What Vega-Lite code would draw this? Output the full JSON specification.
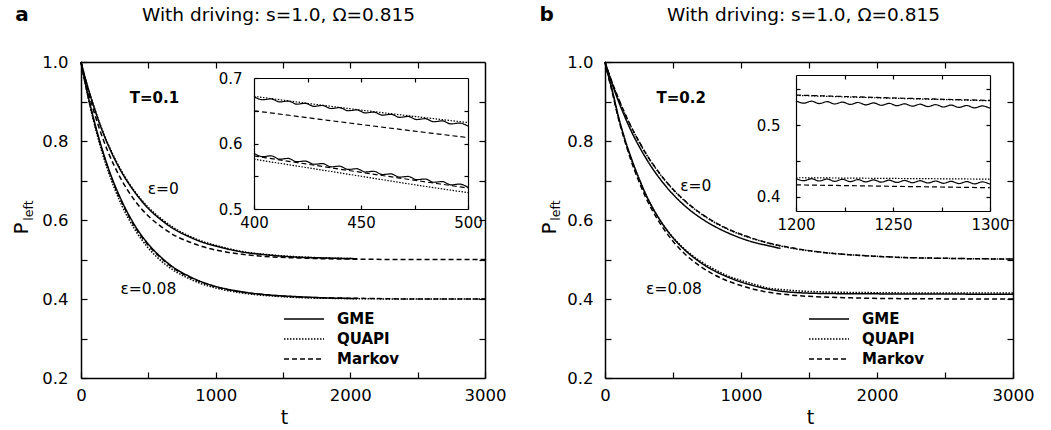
{
"$schema":"https://vega.github.io/schema/vega-lite/v6.json",
"width":1051,"height":430,"autosize":"none","padding":0,"background":"white",
"config":{"font":"DejaVu Sans","view":{"stroke":null},
"axis":{"domainColor":"black","domainWidth":1.5,"tickColor":"black","tickWidth":1.2,"labelColor":"black","titleColor":"black","grid":false,"labelFlush":false,"labelOverlap":false,"titleFontWeight":"normal","labelFont":"DejaVu Sans","titleFont":"DejaVu Sans"},
"legend":{"labelFont":"DejaVu Sans"}},
"datasets":{
"mainA":[
{"t":0,"P":1,"m":"GME","e":"0"},{"t":25,"P":0.967,"m":"GME","e":"0"},{"t":50,"P":0.937,"m":"GME","e":"0"},{"t":100,"P":0.882,"m":"GME","e":"0"},{"t":150,"P":0.833,"m":"GME","e":"0"},{"t":200,"P":0.791,"m":"GME","e":"0"},{"t":250,"P":0.754,"m":"GME","e":"0"},{"t":300,"P":0.722,"m":"GME","e":"0"},{"t":400,"P":0.670,"m":"GME","e":"0"},{"t":500,"P":0.629,"m":"GME","e":"0"},{"t":600,"P":0.599,"m":"GME","e":"0"},{"t":700,"P":0.575,"m":"GME","e":"0"},{"t":800,"P":0.558,"m":"GME","e":"0"},{"t":900,"P":0.544,"m":"GME","e":"0"},{"t":1000,"P":0.534,"m":"GME","e":"0"},{"t":1200,"P":0.519,"m":"GME","e":"0"},{"t":1400,"P":0.511,"m":"GME","e":"0"},{"t":1600,"P":0.506,"m":"GME","e":"0"},{"t":1800,"P":0.504,"m":"GME","e":"0"},{"t":2050,"P":0.502,"m":"GME","e":"0"},
{"t":0,"P":1,"m":"QUAPI","e":"0"},{"t":25,"P":0.967,"m":"QUAPI","e":"0"},{"t":50,"P":0.937,"m":"QUAPI","e":"0"},{"t":100,"P":0.883,"m":"QUAPI","e":"0"},{"t":150,"P":0.835,"m":"QUAPI","e":"0"},{"t":200,"P":0.793,"m":"QUAPI","e":"0"},{"t":250,"P":0.757,"m":"QUAPI","e":"0"},{"t":300,"P":0.725,"m":"QUAPI","e":"0"},{"t":400,"P":0.672,"m":"QUAPI","e":"0"},{"t":500,"P":0.632,"m":"QUAPI","e":"0"},{"t":600,"P":0.602,"m":"QUAPI","e":"0"},{"t":700,"P":0.578,"m":"QUAPI","e":"0"},{"t":800,"P":0.560,"m":"QUAPI","e":"0"},{"t":900,"P":0.546,"m":"QUAPI","e":"0"},{"t":1000,"P":0.536,"m":"QUAPI","e":"0"},{"t":1200,"P":0.520,"m":"QUAPI","e":"0"},{"t":1400,"P":0.512,"m":"QUAPI","e":"0"},{"t":1600,"P":0.507,"m":"QUAPI","e":"0"},{"t":1800,"P":0.504,"m":"QUAPI","e":"0"},{"t":2050,"P":0.502,"m":"QUAPI","e":"0"},
{"t":0,"P":1,"m":"Markov","e":"0"},{"t":25,"P":0.964,"m":"Markov","e":"0"},{"t":50,"P":0.930,"m":"Markov","e":"0"},{"t":100,"P":0.870,"m":"Markov","e":"0"},{"t":150,"P":0.818,"m":"Markov","e":"0"},{"t":200,"P":0.773,"m":"Markov","e":"0"},{"t":250,"P":0.735,"m":"Markov","e":"0"},{"t":300,"P":0.702,"m":"Markov","e":"0"},{"t":400,"P":0.649,"m":"Markov","e":"0"},{"t":500,"P":0.610,"m":"Markov","e":"0"},{"t":600,"P":0.582,"m":"Markov","e":"0"},{"t":700,"P":0.560,"m":"Markov","e":"0"},{"t":800,"P":0.545,"m":"Markov","e":"0"},{"t":900,"P":0.533,"m":"Markov","e":"0"},{"t":1000,"P":0.524,"m":"Markov","e":"0"},{"t":1200,"P":0.513,"m":"Markov","e":"0"},{"t":1400,"P":0.507,"m":"Markov","e":"0"},{"t":1600,"P":0.504,"m":"Markov","e":"0"},{"t":1800,"P":0.502,"m":"Markov","e":"0"},{"t":2000,"P":0.501,"m":"Markov","e":"0"},{"t":2500,"P":0.500,"m":"Markov","e":"0"},{"t":3000,"P":0.500,"m":"Markov","e":"0"},
{"t":0,"P":1,"m":"GME","e":"0.08"},{"t":25,"P":0.958,"m":"GME","e":"0.08"},{"t":50,"P":0.918,"m":"GME","e":"0.08"},{"t":100,"P":0.848,"m":"GME","e":"0.08"},{"t":150,"P":0.787,"m":"GME","e":"0.08"},{"t":200,"P":0.734,"m":"GME","e":"0.08"},{"t":250,"P":0.689,"m":"GME","e":"0.08"},{"t":300,"P":0.650,"m":"GME","e":"0.08"},{"t":400,"P":0.586,"m":"GME","e":"0.08"},{"t":500,"P":0.539,"m":"GME","e":"0.08"},{"t":600,"P":0.504,"m":"GME","e":"0.08"},{"t":700,"P":0.477,"m":"GME","e":"0.08"},{"t":800,"P":0.458,"m":"GME","e":"0.08"},{"t":900,"P":0.443,"m":"GME","e":"0.08"},{"t":1000,"P":0.432,"m":"GME","e":"0.08"},{"t":1200,"P":0.418,"m":"GME","e":"0.08"},{"t":1400,"P":0.410,"m":"GME","e":"0.08"},{"t":1600,"P":0.406,"m":"GME","e":"0.08"},{"t":1800,"P":0.403,"m":"GME","e":"0.08"},{"t":2050,"P":0.401,"m":"GME","e":"0.08"},
{"t":0,"P":1,"m":"QUAPI","e":"0.08"},{"t":25,"P":0.956,"m":"QUAPI","e":"0.08"},{"t":50,"P":0.915,"m":"QUAPI","e":"0.08"},{"t":100,"P":0.842,"m":"QUAPI","e":"0.08"},{"t":150,"P":0.779,"m":"QUAPI","e":"0.08"},{"t":200,"P":0.725,"m":"QUAPI","e":"0.08"},{"t":250,"P":0.679,"m":"QUAPI","e":"0.08"},{"t":300,"P":0.639,"m":"QUAPI","e":"0.08"},{"t":400,"P":0.576,"m":"QUAPI","e":"0.08"},{"t":500,"P":0.529,"m":"QUAPI","e":"0.08"},{"t":600,"P":0.495,"m":"QUAPI","e":"0.08"},{"t":700,"P":0.470,"m":"QUAPI","e":"0.08"},{"t":800,"P":0.452,"m":"QUAPI","e":"0.08"},{"t":900,"P":0.438,"m":"QUAPI","e":"0.08"},{"t":1000,"P":0.428,"m":"QUAPI","e":"0.08"},{"t":1200,"P":0.415,"m":"QUAPI","e":"0.08"},{"t":1400,"P":0.408,"m":"QUAPI","e":"0.08"},{"t":1600,"P":0.404,"m":"QUAPI","e":"0.08"},{"t":1800,"P":0.402,"m":"QUAPI","e":"0.08"},{"t":2000,"P":0.401,"m":"QUAPI","e":"0.08"},{"t":2500,"P":0.400,"m":"QUAPI","e":"0.08"},{"t":3000,"P":0.400,"m":"QUAPI","e":"0.08"},
{"t":0,"P":1,"m":"Markov","e":"0.08"},{"t":25,"P":0.957,"m":"Markov","e":"0.08"},{"t":50,"P":0.917,"m":"Markov","e":"0.08"},{"t":100,"P":0.845,"m":"Markov","e":"0.08"},{"t":150,"P":0.785,"m":"Markov","e":"0.08"},{"t":200,"P":0.732,"m":"Markov","e":"0.08"},{"t":250,"P":0.686,"m":"Markov","e":"0.08"},{"t":300,"P":0.647,"m":"Markov","e":"0.08"},{"t":400,"P":0.583,"m":"Markov","e":"0.08"},{"t":500,"P":0.536,"m":"Markov","e":"0.08"},{"t":600,"P":0.502,"m":"Markov","e":"0.08"},{"t":700,"P":0.475,"m":"Markov","e":"0.08"},{"t":800,"P":0.456,"m":"Markov","e":"0.08"},{"t":900,"P":0.442,"m":"Markov","e":"0.08"},{"t":1000,"P":0.431,"m":"Markov","e":"0.08"},{"t":1200,"P":0.417,"m":"Markov","e":"0.08"},{"t":1400,"P":0.410,"m":"Markov","e":"0.08"},{"t":1600,"P":0.405,"m":"Markov","e":"0.08"},{"t":1800,"P":0.403,"m":"Markov","e":"0.08"},{"t":2000,"P":0.402,"m":"Markov","e":"0.08"},{"t":2500,"P":0.400,"m":"Markov","e":"0.08"},{"t":3000,"P":0.400,"m":"Markov","e":"0.08"}
],
"insetA":[
{"t":400,"P":0.6715,"m":"GME","e":"0"},{"t":404,"P":0.6668,"m":"GME","e":"0"},{"t":408,"P":0.6681,"m":"GME","e":"0"},{"t":412,"P":0.6635,"m":"GME","e":"0"},{"t":416,"P":0.6648,"m":"GME","e":"0"},{"t":420,"P":0.6601,"m":"GME","e":"0"},{"t":424,"P":0.6614,"m":"GME","e":"0"},{"t":428,"P":0.6567,"m":"GME","e":"0"},{"t":432,"P":0.6581,"m":"GME","e":"0"},{"t":436,"P":0.6534,"m":"GME","e":"0"},{"t":440,"P":0.6547,"m":"GME","e":"0"},{"t":444,"P":0.6500,"m":"GME","e":"0"},{"t":448,"P":0.6513,"m":"GME","e":"0"},{"t":452,"P":0.6467,"m":"GME","e":"0"},{"t":456,"P":0.6480,"m":"GME","e":"0"},{"t":460,"P":0.6433,"m":"GME","e":"0"},{"t":464,"P":0.6446,"m":"GME","e":"0"},{"t":468,"P":0.6399,"m":"GME","e":"0"},{"t":472,"P":0.6413,"m":"GME","e":"0"},{"t":476,"P":0.6366,"m":"GME","e":"0"},{"t":480,"P":0.6379,"m":"GME","e":"0"},{"t":484,"P":0.6332,"m":"GME","e":"0"},{"t":488,"P":0.6345,"m":"GME","e":"0"},{"t":492,"P":0.6299,"m":"GME","e":"0"},{"t":496,"P":0.6312,"m":"GME","e":"0"},{"t":500,"P":0.6265,"m":"GME","e":"0"},
{"t":400,"P":0.5850,"m":"GME","e":"0.08"},{"t":404,"P":0.5800,"m":"GME","e":"0.08"},{"t":408,"P":0.5811,"m":"GME","e":"0.08"},{"t":412,"P":0.5761,"m":"GME","e":"0.08"},{"t":416,"P":0.5772,"m":"GME","e":"0.08"},{"t":420,"P":0.5722,"m":"GME","e":"0.08"},{"t":424,"P":0.5732,"m":"GME","e":"0.08"},{"t":428,"P":0.5683,"m":"GME","e":"0.08"},{"t":432,"P":0.5693,"m":"GME","e":"0.08"},{"t":436,"P":0.5644,"m":"GME","e":"0.08"},{"t":440,"P":0.5654,"m":"GME","e":"0.08"},{"t":444,"P":0.5604,"m":"GME","e":"0.08"},{"t":448,"P":0.5615,"m":"GME","e":"0.08"},{"t":452,"P":0.5565,"m":"GME","e":"0.08"},{"t":456,"P":0.5576,"m":"GME","e":"0.08"},{"t":460,"P":0.5526,"m":"GME","e":"0.08"},{"t":464,"P":0.5536,"m":"GME","e":"0.08"},{"t":468,"P":0.5487,"m":"GME","e":"0.08"},{"t":472,"P":0.5497,"m":"GME","e":"0.08"},{"t":476,"P":0.5448,"m":"GME","e":"0.08"},{"t":480,"P":0.5458,"m":"GME","e":"0.08"},{"t":484,"P":0.5408,"m":"GME","e":"0.08"},{"t":488,"P":0.5419,"m":"GME","e":"0.08"},{"t":492,"P":0.5369,"m":"GME","e":"0.08"},{"t":496,"P":0.5380,"m":"GME","e":"0.08"},{"t":500,"P":0.5330,"m":"GME","e":"0.08"},
{"t":400,"P":0.672,"m":"QUAPI","e":"0"},{"t":450,"P":0.651,"m":"QUAPI","e":"0"},{"t":500,"P":0.632,"m":"QUAPI","e":"0"},
{"t":400,"P":0.650,"m":"Markov","e":"0"},{"t":450,"P":0.629,"m":"Markov","e":"0"},{"t":500,"P":0.609,"m":"Markov","e":"0"},
{"t":400,"P":0.576,"m":"QUAPI","e":"0.08"},{"t":425,"P":0.563,"m":"QUAPI","e":"0.08"},{"t":450,"P":0.550,"m":"QUAPI","e":"0.08"},{"t":475,"P":0.537,"m":"QUAPI","e":"0.08"},{"t":500,"P":0.525,"m":"QUAPI","e":"0.08"},
{"t":400,"P":0.581,"m":"Markov","e":"0.08"},{"t":450,"P":0.556,"m":"Markov","e":"0.08"},{"t":500,"P":0.532,"m":"Markov","e":"0.08"}
],
"mainB":[
{"t":0,"P":1,"m":"GME","e":"0"},{"t":25,"P":0.973,"m":"GME","e":"0"},{"t":50,"P":0.947,"m":"GME","e":"0"},{"t":100,"P":0.900,"m":"GME","e":"0"},{"t":150,"P":0.858,"m":"GME","e":"0"},{"t":200,"P":0.820,"m":"GME","e":"0"},{"t":250,"P":0.787,"m":"GME","e":"0"},{"t":300,"P":0.757,"m":"GME","e":"0"},{"t":400,"P":0.706,"m":"GME","e":"0"},{"t":500,"P":0.665,"m":"GME","e":"0"},{"t":600,"P":0.632,"m":"GME","e":"0"},{"t":700,"P":0.606,"m":"GME","e":"0"},{"t":800,"P":0.585,"m":"GME","e":"0"},{"t":900,"P":0.568,"m":"GME","e":"0"},{"t":1000,"P":0.554,"m":"GME","e":"0"},{"t":1100,"P":0.543,"m":"GME","e":"0"},{"t":1200,"P":0.535,"m":"GME","e":"0"},{"t":1290,"P":0.528,"m":"GME","e":"0"},
{"t":0,"P":1,"m":"Markov","e":"0"},{"t":25,"P":0.975,"m":"Markov","e":"0"},{"t":50,"P":0.951,"m":"Markov","e":"0"},{"t":100,"P":0.907,"m":"Markov","e":"0"},{"t":150,"P":0.867,"m":"Markov","e":"0"},{"t":200,"P":0.831,"m":"Markov","e":"0"},{"t":250,"P":0.799,"m":"Markov","e":"0"},{"t":300,"P":0.769,"m":"Markov","e":"0"},{"t":400,"P":0.719,"m":"Markov","e":"0"},{"t":500,"P":0.678,"m":"Markov","e":"0"},{"t":600,"P":0.645,"m":"Markov","e":"0"},{"t":700,"P":0.618,"m":"Markov","e":"0"},{"t":800,"P":0.596,"m":"Markov","e":"0"},{"t":900,"P":0.578,"m":"Markov","e":"0"},{"t":1000,"P":0.564,"m":"Markov","e":"0"},{"t":1200,"P":0.542,"m":"Markov","e":"0"},{"t":1400,"P":0.528,"m":"Markov","e":"0"},{"t":1600,"P":0.518,"m":"Markov","e":"0"},{"t":1800,"P":0.512,"m":"Markov","e":"0"},{"t":2000,"P":0.508,"m":"Markov","e":"0"},{"t":2200,"P":0.505,"m":"Markov","e":"0"},{"t":2500,"P":0.503,"m":"Markov","e":"0"},{"t":3000,"P":0.501,"m":"Markov","e":"0"},
{"t":0,"P":1,"m":"QUAPI","e":"0"},{"t":25,"P":0.975,"m":"QUAPI","e":"0"},{"t":50,"P":0.950,"m":"QUAPI","e":"0"},{"t":100,"P":0.906,"m":"QUAPI","e":"0"},{"t":150,"P":0.866,"m":"QUAPI","e":"0"},{"t":200,"P":0.830,"m":"QUAPI","e":"0"},{"t":250,"P":0.798,"m":"QUAPI","e":"0"},{"t":300,"P":0.768,"m":"QUAPI","e":"0"},{"t":400,"P":0.718,"m":"QUAPI","e":"0"},{"t":500,"P":0.677,"m":"QUAPI","e":"0"},{"t":600,"P":0.644,"m":"QUAPI","e":"0"},{"t":700,"P":0.617,"m":"QUAPI","e":"0"},{"t":800,"P":0.595,"m":"QUAPI","e":"0"},{"t":900,"P":0.577,"m":"QUAPI","e":"0"},{"t":1000,"P":0.563,"m":"QUAPI","e":"0"},{"t":1200,"P":0.5415,"m":"QUAPI","e":"0"},{"t":1400,"P":0.527,"m":"QUAPI","e":"0"},{"t":1600,"P":0.518,"m":"QUAPI","e":"0"},{"t":1800,"P":0.512,"m":"QUAPI","e":"0"},{"t":2000,"P":0.508,"m":"QUAPI","e":"0"},{"t":2200,"P":0.505,"m":"QUAPI","e":"0"},{"t":2500,"P":0.503,"m":"QUAPI","e":"0"},{"t":3000,"P":0.501,"m":"QUAPI","e":"0"},
{"t":0,"P":1,"m":"GME","e":"0.08"},{"t":25,"P":0.965,"m":"GME","e":"0.08"},{"t":50,"P":0.932,"m":"GME","e":"0.08"},{"t":100,"P":0.860,"m":"GME","e":"0.08"},{"t":150,"P":0.800,"m":"GME","e":"0.08"},{"t":200,"P":0.750,"m":"GME","e":"0.08"},{"t":250,"P":0.705,"m":"GME","e":"0.08"},{"t":300,"P":0.665,"m":"GME","e":"0.08"},{"t":400,"P":0.602,"m":"GME","e":"0.08"},{"t":500,"P":0.555,"m":"GME","e":"0.08"},{"t":600,"P":0.520,"m":"GME","e":"0.08"},{"t":700,"P":0.493,"m":"GME","e":"0.08"},{"t":800,"P":0.472,"m":"GME","e":"0.08"},{"t":900,"P":0.456,"m":"GME","e":"0.08"},{"t":1000,"P":0.443,"m":"GME","e":"0.08"},{"t":1100,"P":0.433,"m":"GME","e":"0.08"},{"t":1200,"P":0.425,"m":"GME","e":"0.08"},{"t":1300,"P":0.4195,"m":"GME","e":"0.08"},{"t":1400,"P":0.4165,"m":"GME","e":"0.08"},{"t":1600,"P":0.414,"m":"GME","e":"0.08"},{"t":2000,"P":0.413,"m":"GME","e":"0.08"},{"t":2500,"P":0.4125,"m":"GME","e":"0.08"},{"t":3000,"P":0.412,"m":"GME","e":"0.08"},
{"t":0,"P":1,"m":"Markov","e":"0.08"},{"t":25,"P":0.963,"m":"Markov","e":"0.08"},{"t":50,"P":0.928,"m":"Markov","e":"0.08"},{"t":100,"P":0.855,"m":"Markov","e":"0.08"},{"t":150,"P":0.795,"m":"Markov","e":"0.08"},{"t":200,"P":0.742,"m":"Markov","e":"0.08"},{"t":250,"P":0.697,"m":"Markov","e":"0.08"},{"t":300,"P":0.657,"m":"Markov","e":"0.08"},{"t":400,"P":0.594,"m":"Markov","e":"0.08"},{"t":500,"P":0.546,"m":"Markov","e":"0.08"},{"t":600,"P":0.510,"m":"Markov","e":"0.08"},{"t":700,"P":0.483,"m":"Markov","e":"0.08"},{"t":800,"P":0.462,"m":"Markov","e":"0.08"},{"t":900,"P":0.446,"m":"Markov","e":"0.08"},{"t":1000,"P":0.434,"m":"Markov","e":"0.08"},{"t":1100,"P":0.424,"m":"Markov","e":"0.08"},{"t":1200,"P":0.417,"m":"Markov","e":"0.08"},{"t":1300,"P":0.4125,"m":"Markov","e":"0.08"},{"t":1400,"P":0.409,"m":"Markov","e":"0.08"},{"t":1600,"P":0.405,"m":"Markov","e":"0.08"},{"t":1800,"P":0.403,"m":"Markov","e":"0.08"},{"t":2000,"P":0.4015,"m":"Markov","e":"0.08"},{"t":2500,"P":0.4003,"m":"Markov","e":"0.08"},{"t":3000,"P":0.400,"m":"Markov","e":"0.08"},
{"t":0,"P":1,"m":"QUAPI","e":"0.08"},{"t":25,"P":0.965,"m":"QUAPI","e":"0.08"},{"t":50,"P":0.932,"m":"QUAPI","e":"0.08"},{"t":100,"P":0.858,"m":"QUAPI","e":"0.08"},{"t":150,"P":0.799,"m":"QUAPI","e":"0.08"},{"t":200,"P":0.748,"m":"QUAPI","e":"0.08"},{"t":250,"P":0.704,"m":"QUAPI","e":"0.08"},{"t":300,"P":0.664,"m":"QUAPI","e":"0.08"},{"t":400,"P":0.602,"m":"QUAPI","e":"0.08"},{"t":500,"P":0.556,"m":"QUAPI","e":"0.08"},{"t":600,"P":0.522,"m":"QUAPI","e":"0.08"},{"t":700,"P":0.496,"m":"QUAPI","e":"0.08"},{"t":800,"P":0.476,"m":"QUAPI","e":"0.08"},{"t":900,"P":0.459,"m":"QUAPI","e":"0.08"},{"t":1000,"P":0.447,"m":"QUAPI","e":"0.08"},{"t":1100,"P":0.437,"m":"QUAPI","e":"0.08"},{"t":1200,"P":0.4275,"m":"QUAPI","e":"0.08"},{"t":1300,"P":0.424,"m":"QUAPI","e":"0.08"},{"t":1400,"P":0.421,"m":"QUAPI","e":"0.08"},{"t":1600,"P":0.418,"m":"QUAPI","e":"0.08"},{"t":2000,"P":0.416,"m":"QUAPI","e":"0.08"},{"t":2500,"P":0.415,"m":"QUAPI","e":"0.08"},{"t":3000,"P":0.415,"m":"QUAPI","e":"0.08"}
],
"insetB":[
{"t":1200,"P":0.5340,"m":"GME","e":"0"},{"t":1204,"P":0.5307,"m":"GME","e":"0"},{"t":1208,"P":0.5334,"m":"GME","e":"0"},{"t":1212,"P":0.5301,"m":"GME","e":"0"},{"t":1216,"P":0.5328,"m":"GME","e":"0"},{"t":1220,"P":0.5295,"m":"GME","e":"0"},{"t":1224,"P":0.5322,"m":"GME","e":"0"},{"t":1228,"P":0.5289,"m":"GME","e":"0"},{"t":1232,"P":0.5316,"m":"GME","e":"0"},{"t":1236,"P":0.5283,"m":"GME","e":"0"},{"t":1240,"P":0.5310,"m":"GME","e":"0"},{"t":1244,"P":0.5277,"m":"GME","e":"0"},{"t":1248,"P":0.5304,"m":"GME","e":"0"},{"t":1252,"P":0.5271,"m":"GME","e":"0"},{"t":1256,"P":0.5298,"m":"GME","e":"0"},{"t":1260,"P":0.5265,"m":"GME","e":"0"},{"t":1264,"P":0.5292,"m":"GME","e":"0"},{"t":1268,"P":0.5259,"m":"GME","e":"0"},{"t":1272,"P":0.5286,"m":"GME","e":"0"},{"t":1276,"P":0.5253,"m":"GME","e":"0"},{"t":1280,"P":0.5280,"m":"GME","e":"0"},{"t":1284,"P":0.5247,"m":"GME","e":"0"},{"t":1288,"P":0.5274,"m":"GME","e":"0"},{"t":1292,"P":0.5241,"m":"GME","e":"0"},{"t":1296,"P":0.5268,"m":"GME","e":"0"},{"t":1300,"P":0.5235,"m":"GME","e":"0"},
{"t":1200,"P":0.4255,"m":"GME","e":"0.08"},{"t":1204,"P":0.4223,"m":"GME","e":"0.08"},{"t":1208,"P":0.4251,"m":"GME","e":"0.08"},{"t":1212,"P":0.4219,"m":"GME","e":"0.08"},{"t":1216,"P":0.4247,"m":"GME","e":"0.08"},{"t":1220,"P":0.4215,"m":"GME","e":"0.08"},{"t":1224,"P":0.4243,"m":"GME","e":"0.08"},{"t":1228,"P":0.4211,"m":"GME","e":"0.08"},{"t":1232,"P":0.4239,"m":"GME","e":"0.08"},{"t":1236,"P":0.4207,"m":"GME","e":"0.08"},{"t":1240,"P":0.4235,"m":"GME","e":"0.08"},{"t":1244,"P":0.4203,"m":"GME","e":"0.08"},{"t":1248,"P":0.4231,"m":"GME","e":"0.08"},{"t":1252,"P":0.4199,"m":"GME","e":"0.08"},{"t":1256,"P":0.4227,"m":"GME","e":"0.08"},{"t":1260,"P":0.4195,"m":"GME","e":"0.08"},{"t":1264,"P":0.4223,"m":"GME","e":"0.08"},{"t":1268,"P":0.4191,"m":"GME","e":"0.08"},{"t":1272,"P":0.4219,"m":"GME","e":"0.08"},{"t":1276,"P":0.4187,"m":"GME","e":"0.08"},{"t":1280,"P":0.4215,"m":"GME","e":"0.08"},{"t":1284,"P":0.4183,"m":"GME","e":"0.08"},{"t":1288,"P":0.4211,"m":"GME","e":"0.08"},{"t":1292,"P":0.4179,"m":"GME","e":"0.08"},{"t":1296,"P":0.4207,"m":"GME","e":"0.08"},{"t":1300,"P":0.4175,"m":"GME","e":"0.08"},
{"t":1200,"P":0.5415,"m":"QUAPI","e":"0"},{"t":1250,"P":0.5375,"m":"QUAPI","e":"0"},{"t":1300,"P":0.534,"m":"QUAPI","e":"0"},
{"t":1200,"P":0.542,"m":"Markov","e":"0"},{"t":1250,"P":0.538,"m":"Markov","e":"0"},{"t":1300,"P":0.5345,"m":"Markov","e":"0"},
{"t":1200,"P":0.4265,"m":"QUAPI","e":"0.08"},{"t":1250,"P":0.4255,"m":"QUAPI","e":"0.08"},{"t":1300,"P":0.4245,"m":"QUAPI","e":"0.08"},
{"t":1200,"P":0.4165,"m":"Markov","e":"0.08"},{"t":1250,"P":0.4145,"m":"Markov","e":"0.08"},{"t":1300,"P":0.4125,"m":"Markov","e":"0.08"}
]
},
"layer":[
{"layer":[
 {"data":{"name":"mainA"},
  "mark":{"type":"line","color":"black","strokeWidth":1.5,"interpolate":"monotone"},
  "encoding":{
   "x":{"field":"t","type":"quantitative","scale":{"domain":[0,3000],"range":[81,485]},
    "axis":{"orient":"bottom","offset":-52,"values":[0,500,1000,1500,2000,2500,3000],"format":"d","labelExpr":"datum.value % 1000 == 0 ? datum.label : ''","tickSize":-6,"labelPadding":15,"labelFontSize":16.5,"title":"t","titleFontSize":19,"titleX":284,"titleY":45,"titleAlign":"center","titleBaseline":"alphabetic"}},
   "y":{"field":"P","type":"quantitative","scale":{"domain":[0.2,1.0],"range":[378,62]},
    "axis":{"orient":"left","offset":-81,"values":[0.2,0.3,0.4,0.5,0.6,0.7,0.8,0.9,1.0],"format":".1f","labelExpr":"round(datum.value*10) % 2 == 0 ? datum.label : ''","tickSize":-6,"labelPadding":19,"labelFontSize":16.5,"title":"P","titleFontSize":20,"titleAngle":270,"titleX":-54,"titleY":228,"titleAlign":"center","titleBaseline":"alphabetic"}},
   "strokeDash":{"field":"m","type":"nominal","scale":{"domain":["GME","QUAPI","Markov"],"range":[[1,0],[1.5,1.5],[5,3]]},
    "legend":{"orient":"none","legendX":283,"legendY":309,"title":null,"symbolType":"stroke","symbolSize":1600,"symbolStrokeWidth":1.5,"symbolStrokeColor":"black","clipHeight":20,"rowPadding":0,"labelFontSize":15,"labelFontWeight":"bold","labelOffset":12,"labelColor":"black"}},
   "detail":{"field":"e"}}},
 {"data":{"values":[{}]},"mark":{"type":"text","text":"T=0.1","fontWeight":"bold","fontSize":15,"baseline":"middle"},"encoding":{"x":{"datum":545,"type":"quantitative"},"y":{"datum":0.908,"type":"quantitative"}}},
 {"data":{"values":[{}]},"mark":{"type":"text","text":"ε=0","fontSize":15.5,"baseline":"middle"},"encoding":{"x":{"datum":611,"type":"quantitative"},"y":{"datum":0.678,"type":"quantitative"}}},
 {"data":{"values":[{}]},"mark":{"type":"text","text":"ε=0.08","fontSize":15.5,"baseline":"middle"},"encoding":{"x":{"datum":500,"type":"quantitative"},"y":{"datum":0.426,"type":"quantitative"}}},
 {"data":{"values":[{}]},"mark":{"type":"text","text":"a","fontWeight":"bold","fontSize":20,"baseline":"alphabetic"},"encoding":{"x":{"datum":-438,"type":"quantitative"},"y":{"datum":1.1046,"type":"quantitative"}}}
]},
{"data":{"name":"mainA"},"mark":{"type":"point","opacity":0},
 "encoding":{
  "x":{"field":"t","type":"quantitative","scale":{"domain":[0,3000],"range":[81,485]},
   "axis":{"orient":"top","offset":-62,"values":[500,1000,1500,2000,2500],"labels":false,"tickSize":-6,"title":"With driving: s=1.0, Ω=0.815","titleFontSize":18.5,"titleX":278,"titleY":-42,"titleAlign":"center","titleBaseline":"alphabetic"}},
  "y":{"field":"P","type":"quantitative","scale":{"domain":[0.2,1.0],"range":[378,62]},
   "axis":{"orient":"right","offset":-566,"values":[0.3,0.4,0.5,0.6,0.7,0.8,0.9],"labels":false,"tickSize":-6,"title":"left","titleFontSize":12.5,"titleAngle":270,"titleX":-453,"titleY":210,"titleAlign":"center","titleBaseline":"alphabetic"}}}},
{"data":{"name":"insetA"},
 "mark":{"type":"line","color":"black","strokeWidth":1.2,"interpolate":"monotone"},
 "encoding":{
  "x":{"field":"t","type":"quantitative","scale":{"domain":[400,500],"range":[254,468]},
   "axis":{"orient":"bottom","offset":-221,"values":[400,425,450,475,500],"format":"d","labelExpr":"datum.value % 50 == 0 ? datum.label : ''","tickSize":-4,"labelPadding":10,"labelFontSize":15,"title":null,"domainWidth":1.2}},
  "y":{"field":"P","type":"quantitative","scale":{"domain":[0.5,0.7],"range":[209,78]},
   "axis":{"orient":"left","offset":-254,"values":[0.5,0.55,0.6,0.65,0.7],"format":".1f","labelExpr":"round(datum.value*100) % 10 == 0 ? datum.label : ''","tickSize":-4,"labelPadding":16,"labelFontSize":15,"title":null,"domainWidth":1.2}},
  "strokeDash":{"field":"m","type":"nominal","scale":{"domain":["GME","QUAPI","Markov"],"range":[[1,0],[1.5,1.5],[5,3]]},"legend":null},
  "detail":{"field":"e"}}},
{"data":{"name":"insetA"},"mark":{"type":"point","opacity":0},
 "encoding":{
  "x":{"field":"t","type":"quantitative","scale":{"domain":[400,500],"range":[254,468]},
   "axis":{"orient":"top","offset":-78,"values":[425,450,475],"labels":false,"tickSize":-4,"title":null,"domainWidth":1.2}},
  "y":{"field":"P","type":"quantitative","scale":{"domain":[0.5,0.7],"range":[209,78]},
   "axis":{"orient":"right","offset":-583,"values":[0.55,0.6,0.65],"labels":false,"tickSize":-4,"title":null,"domainWidth":1.2}}}},
{"layer":[
 {"data":{"name":"mainB"},
  "mark":{"type":"line","color":"black","strokeWidth":1.5,"interpolate":"monotone"},
  "encoding":{
   "x":{"field":"t","type":"quantitative","scale":{"domain":[0,3000],"range":[605,1013]},
    "axis":{"orient":"bottom","offset":-52,"values":[0,500,1000,1500,2000,2500,3000],"format":"d","labelExpr":"datum.value % 1000 == 0 ? datum.label : ''","tickSize":-6,"labelPadding":15,"labelFontSize":16.5,"title":"t","titleFontSize":19,"titleX":810,"titleY":45,"titleAlign":"center","titleBaseline":"alphabetic"}},
   "y":{"field":"P","type":"quantitative","scale":{"domain":[0.2,1.0],"range":[378,62]},
    "axis":{"orient":"left","offset":-605,"values":[0.2,0.3,0.4,0.5,0.6,0.7,0.8,0.9,1.0],"format":".1f","labelExpr":"round(datum.value*10) % 2 == 0 ? datum.label : ''","tickSize":-6,"labelPadding":18,"labelFontSize":16.5,"title":"P","titleFontSize":20,"titleAngle":270,"titleX":-50,"titleY":228,"titleAlign":"center","titleBaseline":"alphabetic"}},
   "strokeDash":{"field":"m","type":"nominal","scale":{"domain":["GME","QUAPI","Markov"],"range":[[1,0],[1.5,1.5],[5,3]]},
    "legend":{"orient":"none","legendX":808,"legendY":309,"title":null,"symbolType":"stroke","symbolSize":1600,"symbolStrokeWidth":1.5,"symbolStrokeColor":"black","clipHeight":20,"rowPadding":0,"labelFontSize":15,"labelFontWeight":"bold","labelOffset":12,"labelColor":"black"}},
   "detail":{"field":"e"}}},
 {"data":{"values":[{}]},"mark":{"type":"text","text":"T=0.2","fontWeight":"bold","fontSize":15,"baseline":"middle"},"encoding":{"x":{"datum":560,"type":"quantitative"},"y":{"datum":0.908,"type":"quantitative"}}},
 {"data":{"values":[{}]},"mark":{"type":"text","text":"ε=0","fontSize":15.5,"baseline":"middle"},"encoding":{"x":{"datum":668,"type":"quantitative"},"y":{"datum":0.686,"type":"quantitative"}}},
 {"data":{"values":[{}]},"mark":{"type":"text","text":"ε=0.08","fontSize":15.5,"baseline":"middle"},"encoding":{"x":{"datum":507,"type":"quantitative"},"y":{"datum":0.426,"type":"quantitative"}}},
 {"data":{"values":[{}]},"mark":{"type":"text","text":"b","fontWeight":"bold","fontSize":20,"baseline":"alphabetic"},"encoding":{"x":{"datum":-429,"type":"quantitative"},"y":{"datum":1.1046,"type":"quantitative"}}}
]},
{"data":{"name":"mainB"},"mark":{"type":"point","opacity":0},
 "encoding":{
  "x":{"field":"t","type":"quantitative","scale":{"domain":[0,3000],"range":[605,1013]},
   "axis":{"orient":"top","offset":-62,"values":[500,1000,1500,2000,2500],"labels":false,"tickSize":-6,"title":"With driving: s=1.0, Ω=0.815","titleFontSize":18.5,"titleX":803,"titleY":-42,"titleAlign":"center","titleBaseline":"alphabetic"}},
  "y":{"field":"P","type":"quantitative","scale":{"domain":[0.2,1.0],"range":[378,62]},
   "axis":{"orient":"right","offset":-38,"values":[0.3,0.4,0.5,0.6,0.7,0.8,0.9],"labels":false,"tickSize":-6,"title":"left","titleFontSize":12.5,"titleAngle":270,"titleX":-454,"titleY":210,"titleAlign":"center","titleBaseline":"alphabetic"}}}},
{"data":{"name":"insetB"},
 "mark":{"type":"line","color":"black","strokeWidth":1.2,"interpolate":"monotone"},
 "encoding":{
  "x":{"field":"t","type":"quantitative","scale":{"domain":[1200,1300],"range":[796,990]},
   "axis":{"orient":"bottom","offset":-219,"values":[1200,1225,1250,1275,1300],"format":"d","labelExpr":"datum.value % 50 == 0 ? datum.label : ''","tickSize":-4,"labelPadding":10,"labelFontSize":15,"title":null,"domainWidth":1.2}},
  "y":{"field":"P","type":"quantitative","scale":{"domain":[0.38,0.57],"range":[211,75]},
   "axis":{"orient":"left","offset":-796,"values":[0.4,0.45,0.5,0.55],"format":".1f","labelExpr":"round(datum.value*100) % 10 == 0 ? datum.label : ''","tickSize":-4,"labelPadding":20,"labelFontSize":15,"title":null,"domainWidth":1.2}},
  "strokeDash":{"field":"m","type":"nominal","scale":{"domain":["GME","QUAPI","Markov"],"range":[[1,0],[1.5,1.5],[5,3]]},"legend":null},
  "detail":{"field":"e"}}},
{"data":{"name":"insetB"},"mark":{"type":"point","opacity":0},
 "encoding":{
  "x":{"field":"t","type":"quantitative","scale":{"domain":[1200,1300],"range":[796,990]},
   "axis":{"orient":"top","offset":-75,"values":[1225,1250,1275],"labels":false,"tickSize":-4,"title":null,"domainWidth":1.2}},
  "y":{"field":"P","type":"quantitative","scale":{"domain":[0.38,0.57],"range":[211,75]},
   "axis":{"orient":"right","offset":-61,"values":[0.4,0.45,0.5,0.55],"labels":false,"tickSize":-4,"title":null,"domainWidth":1.2}}}}
],
"resolve":{"scale":{"x":"independent","y":"independent","strokeDash":"independent"},"axis":{"x":"independent","y":"independent"},"legend":{"strokeDash":"independent"}}
}
